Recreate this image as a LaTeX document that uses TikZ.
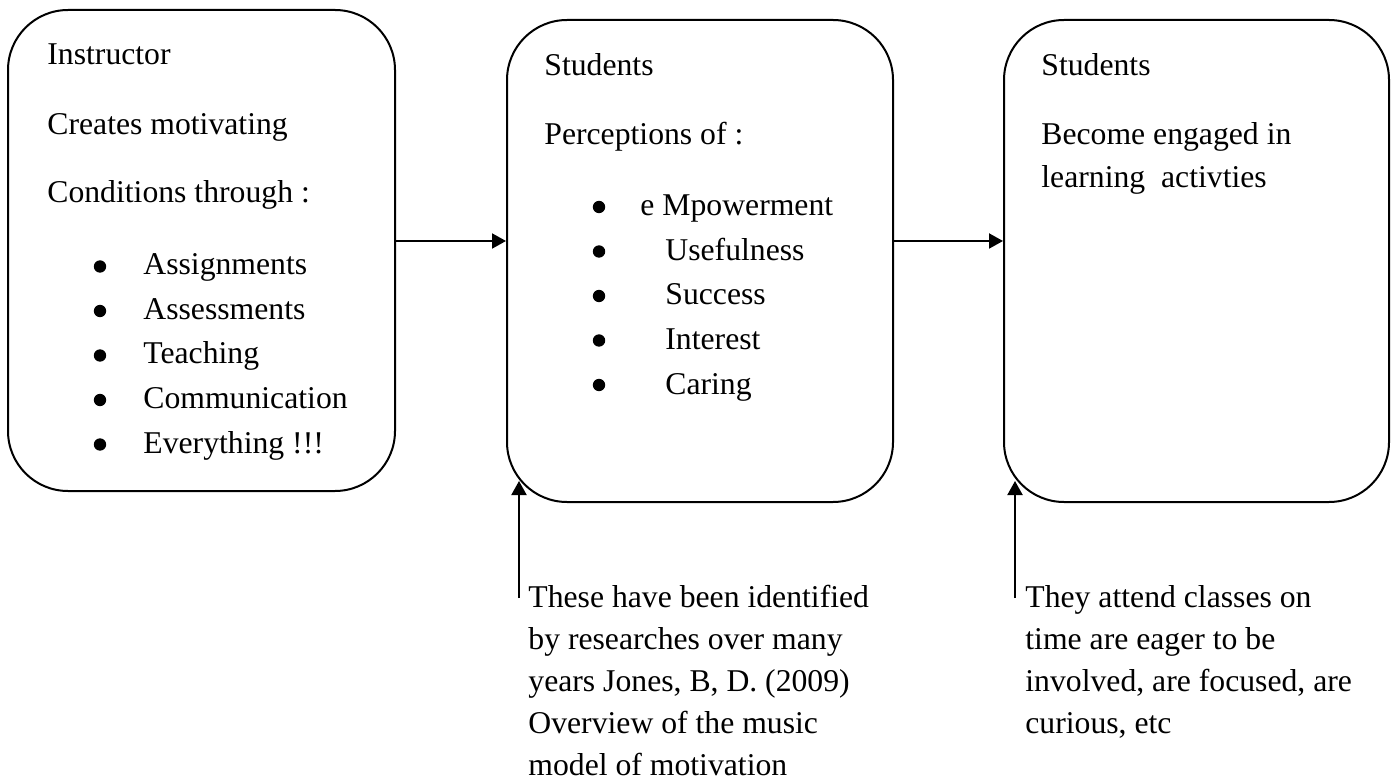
\documentclass[tikz,border=0pt]{standalone}
\usepackage{fontspec}
\setmainfont{Liberation Serif}
\usetikzlibrary{arrows.meta}
\begin{document}
\begin{tikzpicture}[x=0.5pt,y=-0.5pt,
  box/.style={draw, line width=1pt, rounded corners=30pt, inner sep=0pt, minimum width=#1*0.5pt, minimum height=241pt},
  txt/.style={anchor=base west, inner sep=0pt, font=\fontsize{15.85pt}{21pt}\selectfont},
  dot/.style={circle, fill, inner sep=0pt, minimum size=6.2pt},
  arr/.style={line width=1pt, -{Triangle[length=7pt,width=7.5pt]}}]
\useasboundingbox (0,0) rectangle (1396,780);

% boxes
\node[box=387, minimum height=240.5pt] (box1) at (201.5,250.5) {};
\node[box=386] (box2) at (700,261) {};
\node[box=385] (box3) at (1196.5,261) {};

% box 1 text
\node[txt] (i1) at (47,65) {Instructor};
\node[txt] (i2) at (47,135) {Creates motivating};
\node[txt] (i3) at (47,203) {Conditions through :};
\foreach \t [count=\i] in {Assignments, Assessments, Teaching, Communication, Everything !!!}{
  \node[dot] (ib\i) at (100,{275+(\i-1)*44.5-8.5}) {};
  \node[txt] (il\i) at (143,{275+(\i-1)*44.5}) {\t};
}

% box 2 text
\node[txt] (s1) at (544,76) {Students};
\node[txt] (s2) at (544,145) {Perceptions of :};
\foreach \t [count=\i] in {e Mpowerment, Usefulness, Success, Interest, Caring}{
  \node[dot] (sb\i) at (599,{216+(\i-1)*44.5-9}) {};
}
\node[txt] (sl1) at (640,216) {e Mpowerment};
\foreach \t [count=\i from 2] in {Usefulness, Success, Interest, Caring}{
  \node[txt] (sl\i) at (665,{216+(\i-1)*44.5}) {\t};
}

% box 3 text
\node[txt] (e1) at (1041,76) {Students};
\node[txt] (e2) at (1041,145) {Become engaged in};
\node[txt] (e3) at (1041,188) {learning\ \ activties};

% notes below
\foreach \t [count=\i] in {These have been identified, by researches over many, {years Jones, B, D. (2009)}, Overview of the music, model of motivation}{
  \node[txt] (n\i) at (528,{607+(\i-1)*42}) {\t};
}
\foreach \t [count=\i] in {They attend classes on, time are eager to be, {involved, are focused, are}, {curious, etc}}{
  \node[txt] (m\i) at (1025,{607+(\i-1)*42}) {\t};
}

% connectors
\coordinate (h1) at (0,241);
\draw[arr] (box1.east |- h1) -- (box2.west |- h1);
\draw[arr] (box2.east |- h1) -- (box3.west |- h1);

\coordinate (v2s) at (519,598);
\coordinate (v2e) at (519,481);
\coordinate (v3s) at (1015,598);
\coordinate (v3e) at (1015,481);
\draw[arr] (v2s) -- (v2e);
\draw[arr] (v3s) -- (v3e);
\end{tikzpicture}
\end{document}
